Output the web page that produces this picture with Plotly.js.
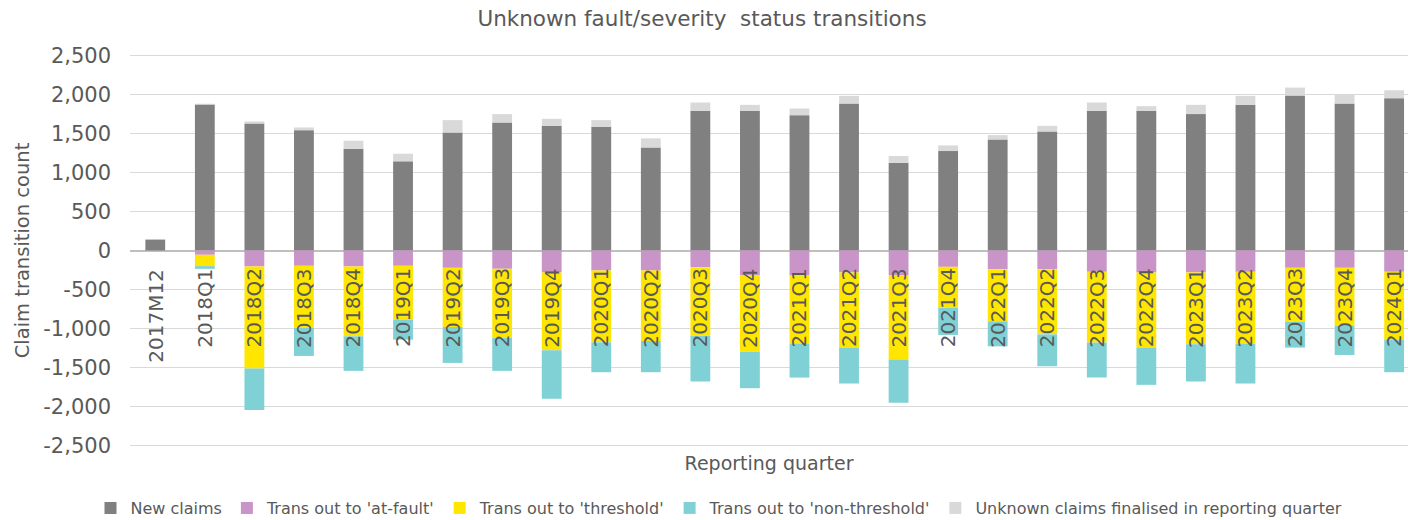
<!DOCTYPE html>
<html>
<head>
<meta charset="utf-8">
<script src="https://cdn.plot.ly/plotly-3.0.1.min.js"></script>
<style>
html,body{margin:0;padding:0;background:#fff;}
#chart{width:1408px;height:520px;}
</style>
</head>
<body>
<div id="chart"></div>
<script>
var categories = ['2017M12','2018Q1','2018Q2','2018Q3','2018Q4','2019Q1','2019Q2','2019Q3','2019Q4','2020Q1','2020Q2','2020Q3','2020Q4','2021Q1','2021Q2','2021Q3','2021Q4','2022Q1','2022Q2','2022Q3','2022Q4','2023Q1','2023Q2','2023Q3','2023Q4','2024Q1'];
var newClaims = [140,1870,1627,1542,1304,1142,1512,1640,1598,1585,1321,1789,1789,1734,1883,1125,1274,1423,1525,1789,1789,1747,1866,1985,1883,1951];
var transAtFault = [0,-55,-204,-196,-204,-196,-222,-234,-281,-256,-256,-213,-315,-315,-281,-315,-209,-239,-239,-273,-281,-281,-273,-222,-222,-273];
var transThreshold = [0,-145,-1308,-797,-895,-690,-758,-882,-997,-920,-903,-878,-980,-878,-967,-1082,-524,-669,-835,-907,-967,-920,-924,-690,-741,-869];
var transNonThreshold = [0,-35,-532,-358,-443,-256,-460,-426,-622,-383,-400,-588,-469,-435,-456,-554,-349,-320,-409,-447,-473,-477,-507,-332,-375,-417];
var finalised = [0,10,26,34,102,98,158,107,89,85,115,107,77,85,98,85,72,55,72,107,60,119,115,102,119,102];
var yTickVals = [2500,2000,1500,1000,500,0,-500,-1000,-1500,-2000,-2500];
var yTickText = ['2,500','2,000','1,500','1,000','500','0','-500','-1,000','-1,500','-2,000','-2,500'];

var seriesNames = ['New claims',"Trans out to 'at-fault'","Trans out to 'threshold'","Trans out to 'non-threshold'",'Unknown claims finalised in reporting quarter'];
var seriesColors = ['#808080','#C994C7','#FFE600','#80D1D5','#D9D9D9'];
var seriesData = [newClaims, transAtFault, transThreshold, transNonThreshold, finalised];

var traces = seriesData.map(function(vals, i){
  return {
    type:'bar', x:categories, y:vals, name:seriesNames[i],
    marker:{color:seriesColors[i], line:{width:0}},
    hoverinfo:'x+y+name'
  };
});

var textColor = '#595959';
var fontFam = 'DejaVu Sans';
var annotations = categories.map(function(c){
  return {x:c, y:0, xref:'x', yref:'y', text:c, showarrow:false, textangle:-90,
          xanchor:'center', yanchor:'top', yshift:-16,
          font:{family:fontFam, size:20, color:textColor}};
});

var layout = {
  width:1408, height:520,
  margin:{l:130, r:0, t:53, b:72},
  paper_bgcolor:'#fff', plot_bgcolor:'#fff',
  barmode:'relative', bargap:0.6,
  title:{text:'Unknown fault/severity\u00A0 status transitions', x:702/1408, xref:'container', xanchor:'center',
         y:1-18/520, yref:'container', yanchor:'middle',
         font:{family:fontFam, size:21.5, color:textColor}},
  xaxis:{type:'category', range:[-0.51, 25.28], showticklabels:false, showgrid:false, zeroline:false,
         showline:false, ticks:'', fixedrange:true,
         title:{text:'Reporting quarter', standoff:8, font:{family:fontFam, size:19, color:textColor}}},
  yaxis:{range:[-2530,2530], tickvals:yTickVals, ticktext:yTickText, showgrid:true, gridcolor:'#D9D9D9', gridwidth:1,
         zeroline:true, zerolinecolor:'#BFBFBF', zerolinewidth:2, showline:false, ticks:'', ticklabelstandoff:18,
         tickfont:{family:fontFam, size:21, color:textColor},
         title:{text:'Claim transition count', standoff:8, font:{family:fontFam, size:19.5, color:textColor}}},
  legend:{orientation:'h', x:719/1408, xref:'container', xanchor:'center', y:(520-508)/520, yref:'container', yanchor:'middle',
          traceorder:'normal', font:{family:fontFam, size:16, color:textColor}, itemwidth:30},
  annotations:annotations,
  showlegend:true
};

Plotly.newPlot('chart', traces, layout, {displayModeBar:false, staticPlot:true});
</script>
</body>
</html>
